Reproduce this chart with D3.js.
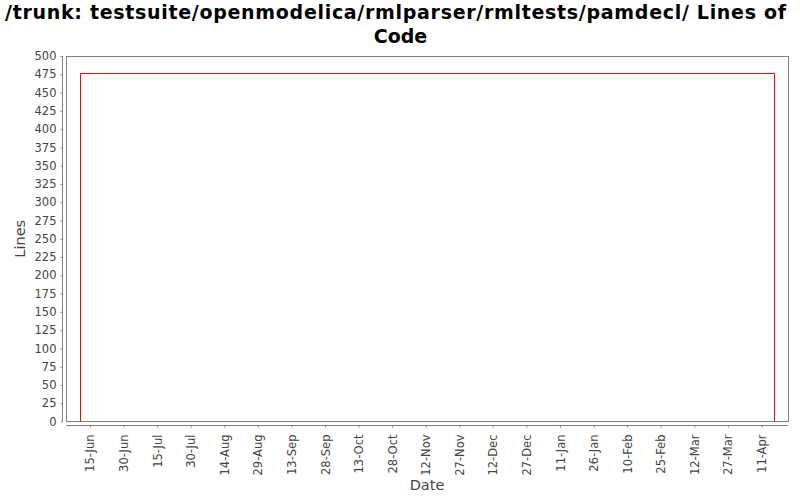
<!DOCTYPE html>
<html><head><meta charset="utf-8">
<script src="https://cdn.jsdelivr.net/npm/d3@7"></script>
<style>body{margin:0;background:#fff} svg{display:block}</style>
</head><body><svg id="c" width="800" height="500"></svg>
<script>
const titleLines = ["/trunk: testsuite/openmodelica/rmlparser/rmltests/pamdecl/ Lines of", "Code"];
const xLabel = "Date";
const yLabel = "Lines";
const dates = ["2009-06-10 12:00", "2010-04-16 16:00"];
const lines = [476, 476];
const xTickDates = ["2009-06-15","2009-06-30","2009-07-15","2009-07-30","2009-08-14","2009-08-29",
  "2009-09-13","2009-09-28","2009-10-13","2009-10-28","2009-11-12","2009-11-27","2009-12-12",
  "2009-12-27","2010-01-11","2010-01-26","2010-02-10","2010-02-25","2010-03-12","2010-03-27","2010-04-11"];
const yTicks = [0,25,50,75,100,125,150,175,200,225,250,275,300,325,350,375,400,425,450,475,500];

const parseDT = d3.timeParse("%Y-%m-%d %H:%M");
const parseD = d3.timeParse("%Y-%m-%d");
const fmt = d3.timeFormat("%d-%b");
const data = dates.map((d,i)=>({date:parseDT(d), v:lines[i]}));
const ticks = xTickDates.map(parseD);

const L=66, R=788, T=56, B=421.5;
const svg = d3.select("#c");
svg.append("rect").attr("width",800).attr("height",500).attr("fill","#fff");

const ext = d3.extent(data, d=>d.date);
const span = ext[1]-ext[0];
const x = d3.scaleTime().domain([new Date(+ext[0]-span*0.02), new Date(+ext[1]+span*0.02)]).range([L,R]);
const y = d3.scaleLinear().domain([0,500]).range([B,T]);

const font = "'DejaVu Sans', sans-serif";
const grey = "#808080", lab = "#444444";

// title
svg.append("text").attr("x",395.5).attr("y",19).attr("text-anchor","middle")
  .attr("font-family",font).attr("font-weight","bold").attr("font-size",19).attr("fill","#000")
  .attr("textLength",781).attr("lengthAdjust","spacing")
  .text(titleLines[0]);
svg.append("text").attr("x",400.5).attr("y",42.5).attr("text-anchor","middle")
  .attr("font-family",font).attr("font-weight","bold").attr("font-size",19).attr("fill","#000")
  .text(titleLines[1]);

// plot frame
svg.append("rect").attr("x",L+0.5).attr("y",T+0.5).attr("width",R-L).attr("height",B-T-0.5)
  .attr("fill","#fff").attr("stroke",grey).attr("stroke-width",1);

// y axis
const ya = svg.append("g").attr("transform",`translate(62.5,0)`)
  .call(d3.axisLeft(y).tickValues(yTicks).tickSize(2).tickPadding(4).tickSizeOuter(0));
ya.select(".domain").attr("stroke",grey).attr("d",`M0,${T}V${B}`);
ya.selectAll(".tick line").attr("stroke",grey);
ya.selectAll(".tick text").attr("fill",lab).attr("font-family",font).attr("font-size",11.5);

// x axis
const xa = svg.append("g").attr("transform",`translate(0,425.5)`)
  .call(d3.axisBottom(x).tickValues(ticks).tickFormat(fmt).tickSize(2).tickSizeOuter(0));
xa.select(".domain").attr("stroke",grey).attr("d",`M${L},0H${R}`);
xa.selectAll(".tick line").attr("stroke",grey);
xa.selectAll(".tick text").attr("fill",lab).attr("font-family",font).attr("font-size",11.5)
  .attr("transform","rotate(-90)").attr("text-anchor","end")
  .attr("x",-9).attr("y",0).attr("dy","0.35em");

// axis labels
svg.append("text").attr("x",(L+R)/2).attr("y",490).attr("text-anchor","middle")
  .attr("font-family",font).attr("font-size",14.5).attr("fill",lab).text(xLabel);
svg.append("text").attr("transform",`translate(25,${(T+B)/2}) rotate(-90)`).attr("text-anchor","middle")
  .attr("font-family",font).attr("font-size",14.5).attr("fill",lab).text(yLabel);

// series (step area outline)
const pts = [{date:data[0].date, v:0}, ...data, {date:data[data.length-1].date, v:0}];
const line = d3.line().x(d=>Math.round(x(d.date))+0.5).y(d=>y(d.v)).curve(d3.curveStepAfter);
svg.append("path").datum(pts).attr("d",line).attr("fill","none").attr("stroke","#ff0000").attr("stroke-width",1);
</script></body></html>
